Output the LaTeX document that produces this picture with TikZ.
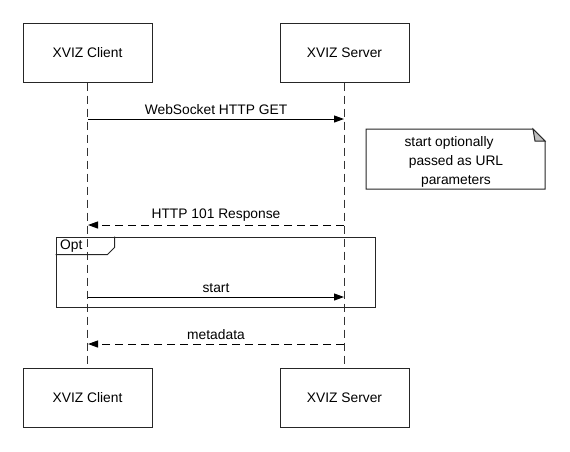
\documentclass[tikz,border=0pt]{standalone}
\usepackage{fontspec}
\setmainfont{Liberation Sans}
\usetikzlibrary{arrows.meta}
\begin{document}
\begin{tikzpicture}[x=1pt,y=-1pt,
  actor/.style={draw=black!85,line width=1pt,minimum width=129pt,minimum height=59pt,inner sep=0pt,font=\fontsize{13.8}{16}\selectfont},
  life/.style={draw=black!80,line width=0.9pt,dash pattern=on 8pt off 5pt},
  msg/.style={draw=black,line width=1pt,-{Triangle[length=10pt,width=7pt]}},
  ret/.style={msg,dash pattern=on 8pt off 5pt},
  lbl/.style={font=\fontsize{13.8}{16}\selectfont,inner sep=3.5pt,above},
  frame/.style={draw=black!85,line width=1pt,minimum width=319pt,minimum height=70pt,inner sep=0pt}]
\useasboundingbox (0,0) rectangle (570,451);
% participants
\node[actor] (c1) at (87.5,52.5) {XVIZ Client};
\node[actor] (s1) at (344.5,52.5) {XVIZ Server};
\node[actor] (c2) at (87.5,397.5) {XVIZ Client};
\node[actor] (s2) at (344.5,397.5) {XVIZ Server};
% lifelines
\draw[life] (c1.south) -- (c2.north);
\draw[life] (s1.south) -- (s2.north);
% message coordinates
\coordinate (m1c) at (88,119);  \coordinate (m1s) at (344,119);
\coordinate (m2c) at (88,225);  \coordinate (m2s) at (344,225);
\coordinate (m3c) at (88,297);  \coordinate (m3s) at (344,297);
\coordinate (m4c) at (88,344);  \coordinate (m4s) at (344,344);
% messages
\draw[msg] (m1c) -- node[lbl] {WebSocket HTTP GET} (m1s);
\draw[ret] (m2s) -- node[lbl] {HTTP 101 Response} (m2c);
\draw[msg] (m3c) -- node[lbl] {start} (m3s);
\draw[ret] (m4s) -- node[lbl] {metadata} (m4c);
% note
\path[draw=black!85,fill=white,line width=1pt] (366,129) -- (533,129) -- (545,141) -- (545,189) -- (366,189) -- cycle;
\path[draw=black!85,fill=black!25,line width=1pt] (533,129) -- (535,141) -- (545,141) -- cycle;
\node[align=center,font=\fontsize{13.8}{19}\selectfont,inner sep=0pt] (note) at (456,162) {start optionally\hspace*{14pt}\\passed as URL\\parameters};
% opt frame
\node[frame] (opt) at (215.5,272) {};
\draw[draw=black!85,line width=1pt] (opt.north west) ++(0,18) -- ++(52,0) -- ++(7,-7) -- ++(0,-11);
\node[anchor=west,font=\fontsize{13.8}{16}\selectfont,inner sep=0pt] (optl) at (60,246.5) {Opt};
\end{tikzpicture}
\end{document}
